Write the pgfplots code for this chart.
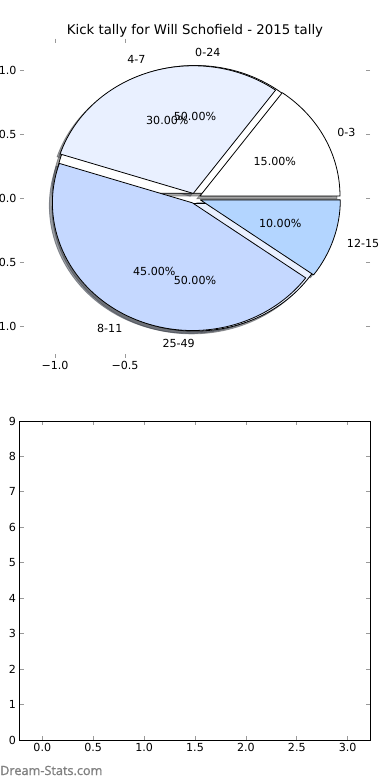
\documentclass[border=0pt]{standalone}
\usepackage{fontspec}
\setmainfont{DejaVu Sans}
\newfontfamily\wmfont[FakeBold=1.2]{Open Sans}
\usepackage{pgfplots}
\pgfplotsset{compat=1.18}

\definecolor{cA}{RGB}{255,255,255}
\definecolor{cB}{RGB}{233,240,255}
\definecolor{cC}{RGB}{197,216,255}
\definecolor{cD}{RGB}{179,213,255}
\definecolor{wm}{RGB}{128,128,128}

\newcommand\lbl{\fontsize{11.1}{13}\selectfont}

\def\pieCmds{}
% #1 start (percent), #2 value (percent), #3 colour, #4 explode, #5 shadow offset, #6 style
\newcommand\addwedge[6]{%
  \pgfmathsetmacro\pSA{3.6*(#1)}%
  \pgfmathsetmacro\pEA{3.6*((#1)+(#2))}%
  \pgfmathsetmacro\pMA{(\pSA+\pEA)/2}%
  \pgfmathsetmacro\pOX{(#4)*cos(\pMA)+(#5)}%
  \pgfmathsetmacro\pOY{(#4)*sin(\pMA)+(#5)}%
  \pgfmathsetmacro\pPX{\pOX+cos(\pSA)}%
  \pgfmathsetmacro\pPY{\pOY+sin(\pSA)}%
  \xdef\pieCmds{\unexpanded\expandafter{\pieCmds}\noexpand\filldraw[#6]
    (axis cs:\pOX,\pOY) -- (axis cs:\pPX,\pPY)
    arc[start angle=\pSA,end angle=\pEA,x radius=140pt,y radius=127.68pt] -- cycle;}}
\newcommand\pieslice[4]{\addwedge{#1}{#2}{#3}{#4}{0}{fill=#3,draw=black,line width=0.8pt,line join=round}}
\newcommand\pieshadow[4]{\addwedge{#1}{#2}{#3}{#4}{-0.022}{fill=#3!30!black,draw=#3!30!black,opacity=0.5,line width=0.8pt}}
% #1 start, #2 value, #3 explode, #4 distance, #5 anchor, #6 text
\newcommand\pietext[6]{%
  \pgfmathsetmacro\pMA{3.6*((#1)+(#2)/2)}%
  \pgfmathsetmacro\pLX{((#3)+(#4))*cos(\pMA)}%
  \pgfmathsetmacro\pLY{((#3)+(#4))*sin(\pMA)}%
  \xdef\pieCmds{\unexpanded\expandafter{\pieCmds}\noexpand\node[anchor=#5,inner sep=0pt,font=\noexpand\lbl] at (axis cs:\pLX,\pLY) {\unexpanded{#6}};}}

% shadows (second pie, then first pie)
\pieshadow{0}{50}{cA}{0.04}
\pieshadow{50}{50}{cB}{0.04}
\pieshadow{0}{15}{cA}{0.04}
\pieshadow{15}{30}{cB}{0.04}
\pieshadow{45}{45}{cC}{0.04}
\pieshadow{90}{10}{cD}{0.04}
% second pie: 0-24, 25-49
\pieslice{0}{50}{cA}{0.04}
\pieslice{50}{50}{cB}{0.04}
% first pie: 0-3, 4-7, 8-11, 12-15
\pieslice{0}{15}{cA}{0.04}
\pieslice{15}{30}{cB}{0.04}
\pieslice{45}{45}{cC}{0.04}
\pieslice{90}{10}{cD}{0.04}
% texts
\pietext{0}{50}{0.04}{1.1}{west}{0-24}
\pietext{50}{50}{0.04}{1.1}{east}{25-49}
\pietext{0}{50}{0.04}{0.6}{center}{50.00\%}
\pietext{50}{50}{0.04}{0.6}{center}{50.00\%}
\pietext{0}{15}{0.04}{1.1}{west}{0-3}
\pietext{15}{30}{0.04}{1.1}{east}{4-7}
\pietext{45}{45}{0.04}{1.1}{east}{8-11}
\pietext{90}{10}{0.04}{1.1}{west}{12-15}
\pietext{0}{15}{0.04}{0.6}{center}{15.00\%}
\pietext{15}{30}{0.04}{0.6}{center}{30.00\%}
\pietext{45}{45}{0.04}{0.6}{center}{45.00\%}
\pietext{90}{10}{0.04}{0.6}{center}{10.00\%}

\begin{document}
\begin{tikzpicture}
\useasboundingbox (0pt,0pt) rectangle (390pt,780pt);
\begin{axis}[
  at={(20pt,422.1pt)}, anchor=south west,
  scale only axis, width=350pt, height=319.2pt,
  xmin=-1.25, xmax=1.25, ymin=-1.25, ymax=1.25,
  clip=false,
  axis line style={draw=none},
  xtick={-1,-0.5}, xticklabels={−1.0,−0.5},
  ytick={-1,-0.5,0,0.5,1}, yticklabels={−1.0,−0.5,0.0,0.5,1.0},
  tick pos=both, ticklabel pos=left,
  tick align=inside,
  major tick length=4pt,
  tick style={black!40,line width=0.8pt},
  tick label style={font=\lbl},
]
\pieCmds
\end{axis}

\begin{axis}[
  at={(19.5pt,40pt)}, anchor=south west,
  scale only axis, width=350.5pt, height=319pt,
  xmin=-0.224, xmax=3.219, ymin=0, ymax=9,
  xtick={0,0.5,1,1.5,2,2.5,3},
  ytick={0,1,2,3,4,5,6,7,8,9},
  tick pos=both, ticklabel pos=left,
  tick align=inside,
  major tick length=4pt,
  tick style={black!40,line width=0.8pt},
  axis line style={black,line width=0.8pt},
  tick label style={font=\lbl},
  /pgf/number format/assume math mode=true,
  xticklabel style={/pgf/number format/.cd,fixed,fixed zerofill,precision=1},
  yticklabel style={/pgf/number format/.cd,fixed,precision=0},
]
\end{axis}

\node[anchor=base,inner sep=0pt,font=\fontsize{13.3}{16}\selectfont] at (195pt,745pt) {Kick tally for Will Schofield - 2015 tally};
\node[anchor=base west,inner sep=0pt,text=wm,font=\wmfont\fontsize{12.7}{15}\selectfont] at (0pt,5pt) {Dream-Stats.com};
\end{tikzpicture}
\end{document}
